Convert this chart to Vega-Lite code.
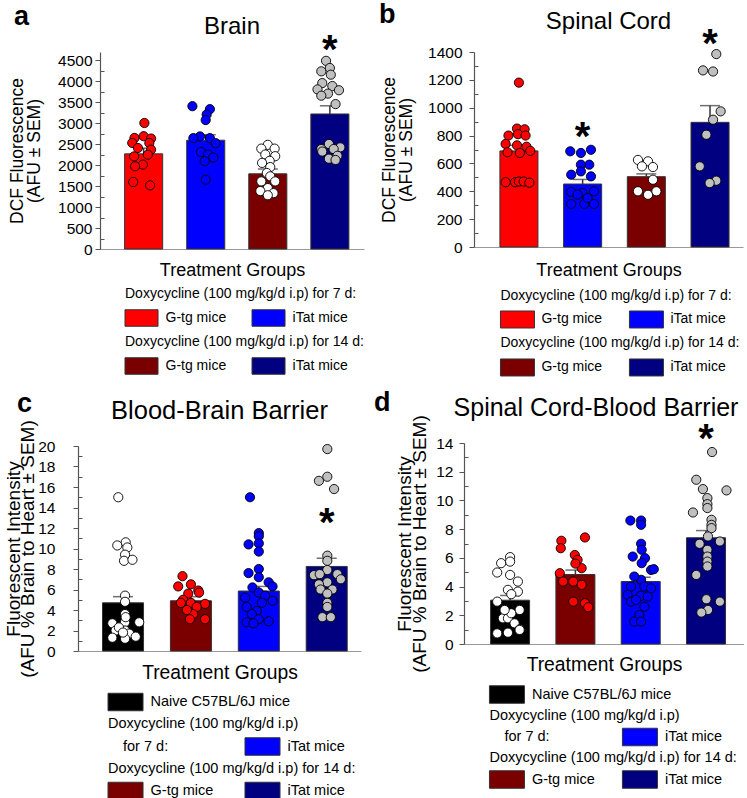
{
  "$schema": "https://vega.github.io/schema/vega-lite/v6.json",
  "padding": {"left": 0, "top": 0, "right": 0, "bottom": 0},
  "background": "white",
  "datasets": {
    "bars": [
      {"panel":"a","group":"G-tg 7d","value":2265,"upper":2400},
      {"panel":"a","group":"iTat 7d","value":2590,"upper":2720},
      {"panel":"a","group":"G-tg 14d","value":1790,"upper":1905},
      {"panel":"a","group":"iTat 14d","value":3215,"upper":3410},
      {"panel":"b","group":"G-tg 7d","value":690,"upper":730},
      {"panel":"b","group":"iTat 7d","value":452,"upper":485},
      {"panel":"b","group":"G-tg 14d","value":505,"upper":525},
      {"panel":"b","group":"iTat 14d","value":895,"upper":1015},
      {"panel":"c","group":"Naive","value":4.7,"upper":5.3},
      {"panel":"c","group":"G-tg 14d","value":4.9,"upper":5.3},
      {"panel":"c","group":"iTat 7d","value":5.85,"upper":6.3},
      {"panel":"c","group":"iTat 14d","value":8.25,"upper":9.05},
      {"panel":"d","group":"Naive","value":3.05,"upper":3.38},
      {"panel":"d","group":"G-tg 14d","value":4.84,"upper":5.15},
      {"panel":"d","group":"iTat 7d","value":4.35,"upper":4.65},
      {"panel":"d","group":"iTat 14d","value":7.4,"upper":7.9}
    ],
    "stars": [
      {"panel":"a","group":"iTat 14d","value":4880},
      {"panel":"b","group":"iTat 7d","value":833},
      {"panel":"b","group":"iTat 14d","value":1503},
      {"panel":"c","group":"iTat 14d","value":13.1},
      {"panel":"d","group":"iTat 14d","value":14.68}
    ],
    "points": [
      {"panel":"a","group":"G-tg 7d","value":3000,"jitter":0.04},
      {"panel":"a","group":"G-tg 7d","value":2645,"jitter":-0.48},
      {"panel":"a","group":"G-tg 7d","value":2685,"jitter":0.0},
      {"panel":"a","group":"G-tg 7d","value":2630,"jitter":0.39},
      {"panel":"a","group":"G-tg 7d","value":2525,"jitter":-0.6},
      {"panel":"a","group":"G-tg 7d","value":2525,"jitter":0.3},
      {"panel":"a","group":"G-tg 7d","value":2405,"jitter":-0.3},
      {"panel":"a","group":"G-tg 7d","value":2365,"jitter":0.39},
      {"panel":"a","group":"G-tg 7d","value":2205,"jitter":-0.5},
      {"panel":"a","group":"G-tg 7d","value":2245,"jitter":0.22},
      {"panel":"a","group":"G-tg 7d","value":2010,"jitter":-0.04},
      {"panel":"a","group":"G-tg 7d","value":1970,"jitter":-0.45},
      {"panel":"a","group":"G-tg 7d","value":1595,"jitter":-0.55},
      {"panel":"a","group":"G-tg 7d","value":1515,"jitter":0.34},
      {"panel":"a","group":"iTat 7d","value":3400,"jitter":-0.7},
      {"panel":"a","group":"iTat 7d","value":3330,"jitter":0.22},
      {"panel":"a","group":"iTat 7d","value":3200,"jitter":0.05},
      {"panel":"a","group":"iTat 7d","value":3070,"jitter":0.0},
      {"panel":"a","group":"iTat 7d","value":2680,"jitter":-0.3},
      {"panel":"a","group":"iTat 7d","value":2640,"jitter":0.22},
      {"panel":"a","group":"iTat 7d","value":2520,"jitter":0.52},
      {"panel":"a","group":"iTat 7d","value":2640,"jitter":-0.65},
      {"panel":"a","group":"iTat 7d","value":2310,"jitter":-0.25},
      {"panel":"a","group":"iTat 7d","value":2250,"jitter":0.13},
      {"panel":"a","group":"iTat 7d","value":2090,"jitter":-0.05},
      {"panel":"a","group":"iTat 7d","value":2180,"jitter":0.4},
      {"panel":"a","group":"iTat 7d","value":1650,"jitter":0.0},
      {"panel":"a","group":"G-tg 14d","value":2480,"jitter":0.0},
      {"panel":"a","group":"G-tg 14d","value":2390,"jitter":-0.34},
      {"panel":"a","group":"G-tg 14d","value":2390,"jitter":0.36},
      {"panel":"a","group":"G-tg 14d","value":2250,"jitter":-0.13},
      {"panel":"a","group":"G-tg 14d","value":2210,"jitter":0.39},
      {"panel":"a","group":"G-tg 14d","value":2100,"jitter":0.1},
      {"panel":"a","group":"G-tg 14d","value":2050,"jitter":-0.3},
      {"panel":"a","group":"G-tg 14d","value":1950,"jitter":0.13},
      {"panel":"a","group":"G-tg 14d","value":1810,"jitter":-0.05},
      {"panel":"a","group":"G-tg 14d","value":1730,"jitter":0.13},
      {"panel":"a","group":"G-tg 14d","value":1610,"jitter":-0.34},
      {"panel":"a","group":"G-tg 14d","value":1610,"jitter":0.39},
      {"panel":"a","group":"G-tg 14d","value":1450,"jitter":0.0},
      {"panel":"a","group":"G-tg 14d","value":1380,"jitter":-0.39},
      {"panel":"a","group":"G-tg 14d","value":1330,"jitter":0.3},
      {"panel":"a","group":"G-tg 14d","value":1280,"jitter":0.0},
      {"panel":"a","group":"iTat 14d","value":4480,"jitter":-0.2},
      {"panel":"a","group":"iTat 14d","value":4310,"jitter":0.0},
      {"panel":"a","group":"iTat 14d","value":4230,"jitter":-0.45},
      {"panel":"a","group":"iTat 14d","value":4150,"jitter":0.05},
      {"panel":"a","group":"iTat 14d","value":3950,"jitter":-0.4},
      {"panel":"a","group":"iTat 14d","value":3880,"jitter":0.13},
      {"panel":"a","group":"iTat 14d","value":3800,"jitter":-0.65},
      {"panel":"a","group":"iTat 14d","value":3780,"jitter":0.48},
      {"panel":"a","group":"iTat 14d","value":3700,"jitter":-0.1},
      {"panel":"a","group":"iTat 14d","value":3650,"jitter":-0.45},
      {"panel":"a","group":"iTat 14d","value":3450,"jitter":0.3},
      {"panel":"a","group":"iTat 14d","value":2500,"jitter":-0.05},
      {"panel":"a","group":"iTat 14d","value":2420,"jitter":0.55},
      {"panel":"a","group":"iTat 14d","value":2380,"jitter":-0.45},
      {"panel":"a","group":"iTat 14d","value":2380,"jitter":0.2},
      {"panel":"a","group":"iTat 14d","value":2320,"jitter":-0.4},
      {"panel":"a","group":"iTat 14d","value":2220,"jitter":0.4},
      {"panel":"a","group":"iTat 14d","value":2150,"jitter":-0.05},
      {"panel":"a","group":"iTat 14d","value":2120,"jitter":0.3},
      {"panel":"b","group":"G-tg 7d","value":1180,"jitter":0.0},
      {"panel":"b","group":"G-tg 7d","value":850,"jitter":-0.1},
      {"panel":"b","group":"G-tg 7d","value":845,"jitter":0.3},
      {"panel":"b","group":"G-tg 7d","value":800,"jitter":-0.55},
      {"panel":"b","group":"G-tg 7d","value":810,"jitter":-0.05},
      {"panel":"b","group":"G-tg 7d","value":800,"jitter":0.35},
      {"panel":"b","group":"G-tg 7d","value":740,"jitter":-0.7},
      {"panel":"b","group":"G-tg 7d","value":730,"jitter":-0.1},
      {"panel":"b","group":"G-tg 7d","value":720,"jitter":0.4},
      {"panel":"b","group":"G-tg 7d","value":680,"jitter":-0.6},
      {"panel":"b","group":"G-tg 7d","value":675,"jitter":0.05},
      {"panel":"b","group":"G-tg 7d","value":690,"jitter":0.6},
      {"panel":"b","group":"G-tg 7d","value":465,"jitter":-0.7},
      {"panel":"b","group":"G-tg 7d","value":465,"jitter":-0.2},
      {"panel":"b","group":"G-tg 7d","value":470,"jitter":0.0},
      {"panel":"b","group":"G-tg 7d","value":470,"jitter":0.25},
      {"panel":"b","group":"G-tg 7d","value":462,"jitter":0.55},
      {"panel":"b","group":"iTat 7d","value":698,"jitter":0.44},
      {"panel":"b","group":"iTat 7d","value":687,"jitter":-0.65},
      {"panel":"b","group":"iTat 7d","value":675,"jitter":-0.09},
      {"panel":"b","group":"iTat 7d","value":591,"jitter":0.35},
      {"panel":"b","group":"iTat 7d","value":591,"jitter":-0.09},
      {"panel":"b","group":"iTat 7d","value":543,"jitter":-0.09},
      {"panel":"b","group":"iTat 7d","value":507,"jitter":0.44},
      {"panel":"b","group":"iTat 7d","value":519,"jitter":-0.6},
      {"panel":"b","group":"iTat 7d","value":395,"jitter":-0.6},
      {"panel":"b","group":"iTat 7d","value":388,"jitter":0.0},
      {"panel":"b","group":"iTat 7d","value":400,"jitter":0.6},
      {"panel":"b","group":"iTat 7d","value":309,"jitter":-0.6},
      {"panel":"b","group":"iTat 7d","value":309,"jitter":0.09},
      {"panel":"b","group":"iTat 7d","value":309,"jitter":0.6},
      {"panel":"b","group":"iTat 7d","value":376,"jitter":-0.26},
      {"panel":"b","group":"iTat 7d","value":352,"jitter":0.26},
      {"panel":"b","group":"G-tg 14d","value":625,"jitter":-0.44},
      {"panel":"b","group":"G-tg 14d","value":615,"jitter":0.09},
      {"panel":"b","group":"G-tg 14d","value":579,"jitter":-0.23},
      {"panel":"b","group":"G-tg 14d","value":574,"jitter":0.35},
      {"panel":"b","group":"G-tg 14d","value":483,"jitter":0.35},
      {"panel":"b","group":"G-tg 14d","value":400,"jitter":-0.44},
      {"panel":"b","group":"G-tg 14d","value":375,"jitter":0.09},
      {"panel":"b","group":"G-tg 14d","value":400,"jitter":0.53},
      {"panel":"b","group":"iTat 14d","value":1385,"jitter":0.33},
      {"panel":"b","group":"iTat 14d","value":1268,"jitter":-0.37},
      {"panel":"b","group":"iTat 14d","value":1260,"jitter":0.16},
      {"panel":"b","group":"iTat 14d","value":974,"jitter":0.56},
      {"panel":"b","group":"iTat 14d","value":914,"jitter":0.16},
      {"panel":"b","group":"iTat 14d","value":806,"jitter":-0.19},
      {"panel":"b","group":"iTat 14d","value":579,"jitter":-0.54},
      {"panel":"b","group":"iTat 14d","value":476,"jitter":0.33},
      {"panel":"b","group":"iTat 14d","value":459,"jitter":-0.02},
      {"panel":"c","group":"Naive","value":15.0,"jitter":-0.23},
      {"panel":"c","group":"Naive","value":10.6,"jitter":0.13},
      {"panel":"c","group":"Naive","value":10.3,"jitter":-0.28},
      {"panel":"c","group":"Naive","value":10.1,"jitter":0.21},
      {"panel":"c","group":"Naive","value":9.4,"jitter":0.1},
      {"panel":"c","group":"Naive","value":8.8,"jitter":0.05},
      {"panel":"c","group":"Naive","value":8.9,"jitter":0.46},
      {"panel":"c","group":"Naive","value":5.4,"jitter":0.1},
      {"panel":"c","group":"Naive","value":4.8,"jitter":0.1},
      {"panel":"c","group":"Naive","value":3.6,"jitter":0.1},
      {"panel":"c","group":"Naive","value":2.8,"jitter":0.1},
      {"panel":"c","group":"Naive","value":2.7,"jitter":-0.52},
      {"panel":"c","group":"Naive","value":2.8,"jitter":0.79},
      {"panel":"c","group":"Naive","value":2.0,"jitter":-0.36},
      {"panel":"c","group":"Naive","value":2.0,"jitter":0.1},
      {"panel":"c","group":"Naive","value":1.7,"jitter":0.3},
      {"panel":"c","group":"Naive","value":1.3,"jitter":-0.52},
      {"panel":"c","group":"Naive","value":1.4,"jitter":0.62},
      {"panel":"c","group":"Naive","value":1.2,"jitter":0.1},
      {"panel":"c","group":"Naive","value":3.3,"jitter":0.13},
      {"panel":"c","group":"Naive","value":2.3,"jitter":-0.2},
      {"panel":"c","group":"Naive","value":1.8,"jitter":0.0},
      {"panel":"c","group":"G-tg 14d","value":7.3,"jitter":-0.41},
      {"panel":"c","group":"G-tg 14d","value":6.5,"jitter":0.0},
      {"panel":"c","group":"G-tg 14d","value":6.3,"jitter":-0.62},
      {"panel":"c","group":"G-tg 14d","value":5.9,"jitter":0.36},
      {"panel":"c","group":"G-tg 14d","value":5.6,"jitter":-0.13},
      {"panel":"c","group":"G-tg 14d","value":5.0,"jitter":-0.38},
      {"panel":"c","group":"G-tg 14d","value":4.7,"jitter":-0.49},
      {"panel":"c","group":"G-tg 14d","value":4.7,"jitter":0.0},
      {"panel":"c","group":"G-tg 14d","value":4.6,"jitter":0.69},
      {"panel":"c","group":"G-tg 14d","value":4.3,"jitter":0.28},
      {"panel":"c","group":"G-tg 14d","value":3.6,"jitter":0.11},
      {"panel":"c","group":"G-tg 14d","value":3.1,"jitter":-0.05},
      {"panel":"c","group":"G-tg 14d","value":3.1,"jitter":0.69},
      {"panel":"c","group":"G-tg 14d","value":5.7,"jitter":0.4},
      {"panel":"c","group":"G-tg 14d","value":4.0,"jitter":-0.2},
      {"panel":"c","group":"iTat 7d","value":15.0,"jitter":-0.43},
      {"panel":"c","group":"iTat 7d","value":11.5,"jitter":0.0},
      {"panel":"c","group":"iTat 7d","value":11.2,"jitter":0.0},
      {"panel":"c","group":"iTat 7d","value":10.4,"jitter":-0.5},
      {"panel":"c","group":"iTat 7d","value":10.5,"jitter":0.0},
      {"panel":"c","group":"iTat 7d","value":9.7,"jitter":0.0},
      {"panel":"c","group":"iTat 7d","value":8.0,"jitter":0.0},
      {"panel":"c","group":"iTat 7d","value":7.6,"jitter":-0.5},
      {"panel":"c","group":"iTat 7d","value":7.2,"jitter":0.0},
      {"panel":"c","group":"iTat 7d","value":6.7,"jitter":0.48},
      {"panel":"c","group":"iTat 7d","value":6.3,"jitter":0.67},
      {"panel":"c","group":"iTat 7d","value":6.2,"jitter":-0.31},
      {"panel":"c","group":"iTat 7d","value":5.7,"jitter":0.0},
      {"panel":"c","group":"iTat 7d","value":5.2,"jitter":-0.67},
      {"panel":"c","group":"iTat 7d","value":5.4,"jitter":0.31},
      {"panel":"c","group":"iTat 7d","value":4.9,"jitter":0.67},
      {"panel":"c","group":"iTat 7d","value":4.7,"jitter":0.15},
      {"panel":"c","group":"iTat 7d","value":4.3,"jitter":-0.59},
      {"panel":"c","group":"iTat 7d","value":3.9,"jitter":-0.1},
      {"panel":"c","group":"iTat 7d","value":3.6,"jitter":-0.34},
      {"panel":"c","group":"iTat 7d","value":3.1,"jitter":0.0},
      {"panel":"c","group":"iTat 7d","value":2.9,"jitter":0.48},
      {"panel":"c","group":"iTat 7d","value":2.8,"jitter":-0.59},
      {"panel":"c","group":"iTat 7d","value":2.7,"jitter":-0.26},
      {"panel":"c","group":"iTat 14d","value":19.7,"jitter":0.03},
      {"panel":"c","group":"iTat 14d","value":17.0,"jitter":0.03},
      {"panel":"c","group":"iTat 14d","value":16.6,"jitter":-0.38},
      {"panel":"c","group":"iTat 14d","value":15.8,"jitter":0.36},
      {"panel":"c","group":"iTat 14d","value":9.3,"jitter":0.03},
      {"panel":"c","group":"iTat 14d","value":8.8,"jitter":0.03},
      {"panel":"c","group":"iTat 14d","value":7.9,"jitter":0.03},
      {"panel":"c","group":"iTat 14d","value":7.4,"jitter":-0.62},
      {"panel":"c","group":"iTat 14d","value":7.5,"jitter":-0.34},
      {"panel":"c","group":"iTat 14d","value":7.5,"jitter":0.52},
      {"panel":"c","group":"iTat 14d","value":7.0,"jitter":0.69},
      {"panel":"c","group":"iTat 14d","value":6.7,"jitter":0.03},
      {"panel":"c","group":"iTat 14d","value":6.5,"jitter":-0.38},
      {"panel":"c","group":"iTat 14d","value":6.0,"jitter":-0.3},
      {"panel":"c","group":"iTat 14d","value":6.0,"jitter":0.28},
      {"panel":"c","group":"iTat 14d","value":5.6,"jitter":0.03},
      {"panel":"c","group":"iTat 14d","value":4.7,"jitter":0.03},
      {"panel":"c","group":"iTat 14d","value":4.3,"jitter":0.03},
      {"panel":"c","group":"iTat 14d","value":3.3,"jitter":-0.21},
      {"panel":"c","group":"iTat 14d","value":3.3,"jitter":0.2},
      {"panel":"d","group":"Naive","value":6.05,"jitter":0.0},
      {"panel":"d","group":"Naive","value":5.74,"jitter":0.0},
      {"panel":"d","group":"Naive","value":5.63,"jitter":-0.46},
      {"panel":"d","group":"Naive","value":4.98,"jitter":-0.66},
      {"panel":"d","group":"Naive","value":4.81,"jitter":0.0},
      {"panel":"d","group":"Naive","value":4.35,"jitter":0.4},
      {"panel":"d","group":"Naive","value":3.77,"jitter":-0.11},
      {"panel":"d","group":"Naive","value":3.65,"jitter":0.4},
      {"panel":"d","group":"Naive","value":3.47,"jitter":0.06},
      {"panel":"d","group":"Naive","value":2.95,"jitter":-0.66},
      {"panel":"d","group":"Naive","value":2.37,"jitter":0.49},
      {"panel":"d","group":"Naive","value":1.79,"jitter":-0.37},
      {"panel":"d","group":"Naive","value":1.79,"jitter":-0.11},
      {"panel":"d","group":"Naive","value":2.14,"jitter":0.06},
      {"panel":"d","group":"Naive","value":1.44,"jitter":0.23},
      {"panel":"d","group":"Naive","value":1.02,"jitter":0.49},
      {"panel":"d","group":"Naive","value":0.74,"jitter":-0.66},
      {"panel":"d","group":"Naive","value":0.79,"jitter":-0.11},
      {"panel":"d","group":"Naive","value":0.98,"jitter":0.49},
      {"panel":"d","group":"Naive","value":2.37,"jitter":-0.28},
      {"panel":"d","group":"G-tg 14d","value":7.42,"jitter":0.49},
      {"panel":"d","group":"G-tg 14d","value":7.19,"jitter":-0.72},
      {"panel":"d","group":"G-tg 14d","value":6.67,"jitter":-0.75},
      {"panel":"d","group":"G-tg 14d","value":6.2,"jitter":-0.03},
      {"panel":"d","group":"G-tg 14d","value":5.86,"jitter":0.11},
      {"panel":"d","group":"G-tg 14d","value":5.28,"jitter":0.32},
      {"panel":"d","group":"G-tg 14d","value":4.93,"jitter":-0.8},
      {"panel":"d","group":"G-tg 14d","value":4.35,"jitter":-0.63},
      {"panel":"d","group":"G-tg 14d","value":4.35,"jitter":-0.11},
      {"panel":"d","group":"G-tg 14d","value":4.12,"jitter":0.32},
      {"panel":"d","group":"G-tg 14d","value":2.95,"jitter":-0.11},
      {"panel":"d","group":"G-tg 14d","value":2.84,"jitter":0.49},
      {"panel":"d","group":"G-tg 14d","value":2.56,"jitter":0.66},
      {"panel":"d","group":"G-tg 14d","value":5.6,"jitter":0.0},
      {"panel":"d","group":"iTat 7d","value":8.6,"jitter":-0.53},
      {"panel":"d","group":"iTat 7d","value":8.6,"jitter":0.02},
      {"panel":"d","group":"iTat 7d","value":8.3,"jitter":0.02},
      {"panel":"d","group":"iTat 7d","value":6.98,"jitter":0.02},
      {"panel":"d","group":"iTat 7d","value":6.56,"jitter":0.05},
      {"panel":"d","group":"iTat 7d","value":6.09,"jitter":-0.41},
      {"panel":"d","group":"iTat 7d","value":5.98,"jitter":0.22},
      {"panel":"d","group":"iTat 7d","value":5.63,"jitter":0.05},
      {"panel":"d","group":"iTat 7d","value":5.16,"jitter":0.53},
      {"panel":"d","group":"iTat 7d","value":5.21,"jitter":0.67},
      {"panel":"d","group":"iTat 7d","value":4.47,"jitter":0.02},
      {"panel":"d","group":"iTat 7d","value":4.0,"jitter":-0.5},
      {"panel":"d","group":"iTat 7d","value":4.0,"jitter":0.19},
      {"panel":"d","group":"iTat 7d","value":3.88,"jitter":0.53},
      {"panel":"d","group":"iTat 7d","value":3.42,"jitter":-0.67},
      {"panel":"d","group":"iTat 7d","value":3.35,"jitter":0.0},
      {"panel":"d","group":"iTat 7d","value":2.95,"jitter":-0.5},
      {"panel":"d","group":"iTat 7d","value":2.6,"jitter":0.19},
      {"panel":"d","group":"iTat 7d","value":2.02,"jitter":-0.07},
      {"panel":"d","group":"iTat 7d","value":1.56,"jitter":-0.33},
      {"panel":"d","group":"iTat 7d","value":1.56,"jitter":0.02},
      {"panel":"d","group":"iTat 7d","value":3.07,"jitter":-0.24},
      {"panel":"d","group":"iTat 7d","value":3.3,"jitter":0.36},
      {"panel":"d","group":"iTat 7d","value":4.7,"jitter":-0.33},
      {"panel":"d","group":"iTat 14d","value":13.37,"jitter":0.31},
      {"panel":"d","group":"iTat 14d","value":11.44,"jitter":-0.5},
      {"panel":"d","group":"iTat 14d","value":10.79,"jitter":-0.16},
      {"panel":"d","group":"iTat 14d","value":10.7,"jitter":1.05},
      {"panel":"d","group":"iTat 14d","value":10.16,"jitter":0.07},
      {"panel":"d","group":"iTat 14d","value":9.74,"jitter":0.07},
      {"panel":"d","group":"iTat 14d","value":9.47,"jitter":0.07},
      {"panel":"d","group":"iTat 14d","value":9.16,"jitter":-0.67},
      {"panel":"d","group":"iTat 14d","value":8.65,"jitter":0.28},
      {"panel":"d","group":"iTat 14d","value":8.3,"jitter":0.28},
      {"panel":"d","group":"iTat 14d","value":8.07,"jitter":0.28},
      {"panel":"d","group":"iTat 14d","value":7.49,"jitter":0.1},
      {"panel":"d","group":"iTat 14d","value":7.14,"jitter":0.71},
      {"panel":"d","group":"iTat 14d","value":6.98,"jitter":-0.33},
      {"panel":"d","group":"iTat 14d","value":6.56,"jitter":0.07},
      {"panel":"d","group":"iTat 14d","value":6.09,"jitter":0.07},
      {"panel":"d","group":"iTat 14d","value":5.74,"jitter":0.07},
      {"panel":"d","group":"iTat 14d","value":5.4,"jitter":0.07},
      {"panel":"d","group":"iTat 14d","value":4.81,"jitter":-0.5},
      {"panel":"d","group":"iTat 14d","value":3.12,"jitter":0.02},
      {"panel":"d","group":"iTat 14d","value":2.95,"jitter":0.71},
      {"panel":"d","group":"iTat 14d","value":2.37,"jitter":0.1},
      {"panel":"d","group":"iTat 14d","value":2.19,"jitter":-0.24}
    ],
    "legend": [
      {"set":"ab","kind":"header","line":"7 d header","column":"G-tg","text":"Doxycycline (100 mg/kg/d i.p) for 7 d:"},
      {"set":"ab","kind":"swatch","line":"7 d","column":"G-tg","group":"G-tg 7d"},
      {"set":"ab","kind":"label","line":"7 d","column":"G-tg","text":"G-tg mice"},
      {"set":"ab","kind":"swatch","line":"7 d","column":"iTat","group":"iTat 7d"},
      {"set":"ab","kind":"label","line":"7 d","column":"iTat","text":"iTat mice"},
      {"set":"ab","kind":"header","line":"14 d header","column":"G-tg","text":"Doxycycline (100 mg/kg/d i.p) for 14 d:"},
      {"set":"ab","kind":"swatch","line":"14 d","column":"G-tg","group":"G-tg 14d"},
      {"set":"ab","kind":"label","line":"14 d","column":"G-tg","text":"G-tg mice"},
      {"set":"ab","kind":"swatch","line":"14 d","column":"iTat","group":"iTat 14d"},
      {"set":"ab","kind":"label","line":"14 d","column":"iTat","text":"iTat mice"},
      {"set":"cd","kind":"swatch","line":"naive","column":"G-tg","group":"Naive"},
      {"set":"cd","kind":"label","line":"naive","column":"G-tg","text":"Naive C57BL/6J mice"},
      {"set":"cd","kind":"header","line":"7 d header","column":"G-tg","text":"Doxycycline (100 mg/kg/d i.p)"},
      {"set":"cd","kind":"subheader","line":"7 d","column":"G-tg","text":"for 7 d:"},
      {"set":"cd","kind":"swatch","line":"7 d","column":"iTat","group":"iTat 7d"},
      {"set":"cd","kind":"label","line":"7 d","column":"iTat","text":"iTat mice"},
      {"set":"cd","kind":"header","line":"14 d header","column":"G-tg","text":"Doxycycline (100 mg/kg/d i.p) for 14 d:"},
      {"set":"cd","kind":"swatch","line":"14 d","column":"G-tg","group":"G-tg 14d"},
      {"set":"cd","kind":"label","line":"14 d","column":"G-tg","text":"G-tg mice"},
      {"set":"cd","kind":"swatch","line":"14 d","column":"iTat","group":"iTat 14d"},
      {"set":"cd","kind":"label","line":"14 d","column":"iTat","text":"iTat mice"}
    ]
  },
  "spacing": 10,
  "resolve": {"scale": {"color": "independent", "xOffset": "independent"}},
  "hconcat": [
    {
      "spacing": 8,
      "resolve": {"scale": {"color": "independent", "xOffset": "independent"}},
      "vconcat": [
        {
          "spacing": 0,
          "title": {"text": "a", "fontSize": 27, "fontWeight": "bold", "anchor": "start", "frame": "bounds", "offset": -16, "dx": 14},
          "resolve": {"scale": {"color": "independent", "xOffset": "independent"}},
          "hconcat": [
            {"width": 8, "height": 1, "data": {"values": []}, "mark": "point"},
            {
              "width": 264, "height": 197,
              "title": {"text": "Brain", "fontSize": 24, "anchor": "middle", "frame": "group", "offset": -8},
              "resolve": {"scale": {"xOffset": "independent"}},
              "encoding": {
                "x": {"field": "group", "type": "nominal", "scale": {"domain": ["G-tg 7d","iTat 7d","G-tg 14d","iTat 14d"], "paddingInner": 0.387, "paddingOuter": 0.32, "align": 0.62},
                      "axis": {"title": "Treatment Groups", "labels": false, "ticks": false, "domainColor": "#999999", "domainWidth": 1.2, "titleFontSize": 18, "titlePadding": 12}},
                "y": {"field": "value", "type": "quantitative", "scale": {"domain": [0, 4690.5], "nice": false},
                      "axis": {"title": ["DCF Fluorescence", "(AFU ± SEM)"], "values": [0,250,500,750,1000,1250,1500,1750,2000,2250,2500,2750,3000,3250,3500,3750,4000,4250,4500], "format": "d",
                               "labelExpr": "datum.value % 500 === 0 ? datum.label : ''", "labelOverlap": false,
                               "tickSize": {"condition": {"test": "datum.value % 500 === 0", "value": 5}, "value": -4},
                               "labelFontSize": 15.5, "labelPadding": 3, "titleFontSize": 17.5, "titleLineHeight": 17, "titlePadding": 14}}
              },
              "layer": [
                {"data": {"name": "bars"}, "transform": [{"filter": "datum.panel === 'a'"}],
                 "mark": {"type": "bar", "stroke": "#333333", "strokeWidth": 1, "width": {"band": 1}},
                 "encoding": {"fill": {"field": "group", "type": "nominal", "scale": {"domain": ["Naive","G-tg 7d","iTat 7d","G-tg 14d","iTat 14d"], "range": ["#000000","#ff0000","#0000ff","#7a0000","#000080"]}, "legend": null}}},
                {"data": {"name": "bars"}, "transform": [{"filter": "datum.panel === 'a'"}],
                 "mark": {"type": "rule", "color": "#333333", "strokeWidth": 1.5},
                 "encoding": {"y2": {"field": "upper"}}},
                {"data": {"name": "bars"}, "transform": [{"filter": "datum.panel === 'a'"}],
                 "mark": {"type": "tick", "color": "#333333", "thickness": 1.5, "size": 20},
                 "encoding": {"y": {"field": "upper", "type": "quantitative"}}},
                {"data": {"values": [{}]},
                 "mark": {"type": "rule", "color": "#777777", "strokeDash": [4, 3], "strokeWidth": 1},
                 "encoding": {"x": {"datum": "G-tg 14d", "type": "nominal", "bandPosition": -0.32}, "y": {"datum": 0, "type": "quantitative"}, "y2": {"datum": 4500}}},
                {"data": {"name": "points"}, "transform": [{"filter": "datum.panel === 'a'"}],
                 "mark": {"type": "circle", "size": 85, "stroke": "#000000", "strokeWidth": 0.9, "opacity": 1},
                 "encoding": {"xOffset": {"field": "jitter", "type": "quantitative", "scale": {"domain": [-1, 1], "range": [0, 38]}},
                              "color": {"field": "group", "type": "nominal", "scale": {"domain": ["G-tg 7d","iTat 7d","G-tg 14d","iTat 14d"], "range": ["#ff0000","#0000ff","#ffffff","#c0c0c0"]}, "legend": null}}},
                {"data": {"name": "stars"}, "transform": [{"filter": "datum.panel === 'a'"}],
                 "mark": {"type": "text", "text": "*", "fontSize": 40, "fontWeight": "bold", "baseline": "alphabetic", "dy": 19}}
              ]
            }
          ]
        },
        {
          "width": 300, "height": 88,
          "data": {"name": "legend"},
          "transform": [{"filter": "datum.set === 'ab'"}],
          "encoding": {
            "x": {"field": "column", "type": "nominal", "scale": {"type": "point", "domain": ["G-tg","iTat"], "padding": 0.681, "align": 0.818}, "axis": null},
            "y": {"field": "line", "type": "nominal", "scale": {"type": "point", "domain": ["7 d header","7 d","14 d header","14 d"], "padding": 0.333, "align": 0}, "axis": null}
          },
          "layer": [
            {"transform": [{"filter": "datum.kind === 'swatch'"}],
             "mark": {"type": "point", "shape": "M-1,-0.5H1V0.5H-1Z", "size": 1089, "filled": true, "stroke": "#333333", "strokeWidth": 1, "opacity": 1},
             "encoding": {"fill": {"field": "group", "type": "nominal", "scale": {"domain": ["Naive","G-tg 7d","iTat 7d","G-tg 14d","iTat 14d"], "range": ["#000000","#ff0000","#0000ff","#7a0000","#000080"]}, "legend": null}}},
            {"transform": [{"filter": "datum.kind === 'label'"}],
             "mark": {"type": "text", "align": "left", "baseline": "middle", "dx": 24, "fontSize": 14},
             "encoding": {"text": {"field": "text"}}},
            {"transform": [{"filter": "datum.kind === 'header'"}],
             "mark": {"type": "text", "align": "left", "baseline": "middle", "dx": -16.5, "fontSize": 14},
             "encoding": {"text": {"field": "text"}}}
          ]
        },
        {
          "spacing": 0,
          "title": {"text": "c", "fontSize": 27, "fontWeight": "bold", "anchor": "start", "frame": "bounds", "offset": -19, "dx": 17},
          "resolve": {"scale": {"color": "independent", "xOffset": "independent"}},
          "hconcat": [
            {"width": 3.5, "height": 1, "data": {"values": []}, "mark": "point"},
            {
              "width": 283, "height": 205,
              "title": {"text": "Blood-Brain Barrier", "fontSize": 25.5, "anchor": "middle", "frame": "group", "offset": -5},
              "resolve": {"scale": {"xOffset": "independent"}},
              "encoding": {
                "x": {"field": "group", "type": "nominal", "scale": {"domain": ["Naive","G-tg 14d","iTat 7d","iTat 14d"], "paddingInner": 0.396, "paddingOuter": 0.282, "align": 0.64},
                      "axis": {"title": "Treatment Groups", "labels": false, "ticks": false, "domainColor": "#999999", "domainWidth": 1.2, "titleFontSize": 19.3, "titlePadding": 12}},
                "y": {"field": "value", "type": "quantitative", "scale": {"domain": [0, 20], "nice": false},
                      "axis": {"title": ["Fluorescent Intensity", "(AFU % Brain to Heart ± SEM)"], "values": [0,1,2,3,4,5,6,7,8,9,10,11,12,13,14,15,16,17,18,19,20], "format": "d",
                               "labelExpr": "datum.value % 2 === 0 ? datum.label : ''", "labelOverlap": false,
                               "tickSize": {"condition": {"test": "datum.value % 2 === 0", "value": 5}, "value": -4},
                               "labelFontSize": 15.5, "labelPadding": 18, "titleFontSize": 19, "titleLineHeight": 14.5, "titlePadding": 0}}
              },
              "layer": [
                {"data": {"name": "bars"}, "transform": [{"filter": "datum.panel === 'c'"}],
                 "mark": {"type": "bar", "stroke": "#333333", "strokeWidth": 1, "width": {"band": 1}},
                 "encoding": {"fill": {"field": "group", "type": "nominal", "scale": {"domain": ["Naive","G-tg 7d","iTat 7d","G-tg 14d","iTat 14d"], "range": ["#000000","#ff0000","#0000ff","#7a0000","#000080"]}, "legend": null}}},
                {"data": {"name": "bars"}, "transform": [{"filter": "datum.panel === 'c'"}],
                 "mark": {"type": "rule", "color": "#333333", "strokeWidth": 1.5},
                 "encoding": {"y2": {"field": "upper"}}},
                {"data": {"name": "bars"}, "transform": [{"filter": "datum.panel === 'c'"}],
                 "mark": {"type": "tick", "color": "#333333", "thickness": 1.5, "size": 20},
                 "encoding": {"y": {"field": "upper", "type": "quantitative"}}},
                {"data": {"name": "points"}, "transform": [{"filter": "datum.panel === 'c'"}],
                 "mark": {"type": "circle", "size": 85, "stroke": "#000000", "strokeWidth": 0.9, "opacity": 1},
                 "encoding": {"xOffset": {"field": "jitter", "type": "quantitative", "scale": {"domain": [-1, 1], "range": [0, 41]}},
                              "color": {"field": "group", "type": "nominal", "scale": {"domain": ["Naive","G-tg 14d","iTat 7d","iTat 14d"], "range": ["#ffffff","#ff0000","#0000ff","#c0c0c0"]}, "legend": null}}},
                {"data": {"name": "stars"}, "transform": [{"filter": "datum.panel === 'c'"}],
                 "mark": {"type": "text", "text": "*", "fontSize": 40, "fontWeight": "bold", "baseline": "alphabetic", "dy": 19}}
              ]
            }
          ]
        },
        {
          "width": 300, "height": 89,
          "data": {"name": "legend"},
          "transform": [{"filter": "datum.set === 'cd'"}],
          "encoding": {
            "x": {"field": "column", "type": "nominal", "scale": {"type": "point", "domain": ["G-tg","iTat"], "padding": 0.595, "align": 0.77}, "axis": null},
            "y": {"field": "line", "type": "nominal", "scale": {"type": "point", "domain": ["naive","7 d header","7 d","14 d header","14 d"], "padding": 0, "align": 0}, "axis": null}
          },
          "layer": [
            {"transform": [{"filter": "datum.kind === 'swatch'"}],
             "mark": {"type": "point", "shape": "M-1,-0.5H1V0.5H-1Z", "size": 1225, "filled": true, "stroke": "#333333", "strokeWidth": 1, "opacity": 1},
             "encoding": {"fill": {"field": "group", "type": "nominal", "scale": {"domain": ["Naive","G-tg 7d","iTat 7d","G-tg 14d","iTat 14d"], "range": ["#000000","#ff0000","#0000ff","#7a0000","#000080"]}, "legend": null}}},
            {"transform": [{"filter": "datum.kind === 'label'"}],
             "mark": {"type": "text", "align": "left", "baseline": "middle", "dx": 25, "fontSize": 14.5},
             "encoding": {"text": {"field": "text"}}},
            {"transform": [{"filter": "datum.kind === 'header'"}],
             "mark": {"type": "text", "align": "left", "baseline": "middle", "dx": -17.5, "fontSize": 14.5},
             "encoding": {"text": {"field": "text"}}},
            {"transform": [{"filter": "datum.kind === 'subheader'"}],
             "mark": {"type": "text", "align": "left", "baseline": "middle", "dx": -2.5, "fontSize": 14.5},
             "encoding": {"text": {"field": "text"}}}
          ]
        }
      ]
    },
    {
      "spacing": 8.5,
      "resolve": {"scale": {"color": "independent", "xOffset": "independent"}},
      "vconcat": [
        {
          "spacing": 0,
          "title": {"text": "b", "fontSize": 27, "fontWeight": "bold", "anchor": "start", "frame": "bounds", "offset": -19, "dx": 4},
          "resolve": {"scale": {"color": "independent", "xOffset": "independent"}},
          "hconcat": [
            {"width": 5, "height": 1, "data": {"values": []}, "mark": "point"},
            {
              "width": 269, "height": 195,
              "title": {"text": "Spinal Cord", "fontSize": 24, "anchor": "middle", "frame": "group", "offset": -9},
              "resolve": {"scale": {"xOffset": "independent"}},
              "encoding": {
                "x": {"field": "group", "type": "nominal", "scale": {"domain": ["G-tg 7d","iTat 7d","G-tg 14d","iTat 14d"], "paddingInner": 0.403, "paddingOuter": 0.313, "align": 0.65},
                      "axis": {"title": "Treatment Groups", "labels": false, "ticks": false, "domainColor": "#999999", "domainWidth": 1.2, "titleFontSize": 18, "titlePadding": 14.2}},
                "y": {"field": "value", "type": "quantitative", "scale": {"domain": [0, 1400], "nice": false},
                      "axis": {"title": ["DCF Fluorescence", "(AFU ± SEM)"], "values": [0,100,200,300,400,500,600,700,800,900,1000,1100,1200,1300,1400], "format": "d",
                               "labelExpr": "datum.value % 200 === 0 ? datum.label : ''", "labelOverlap": false,
                               "tickSize": {"condition": {"test": "datum.value % 200 === 0", "value": 5}, "value": -4},
                               "labelFontSize": 15.5, "labelPadding": 7, "titleFontSize": 17.5, "titleLineHeight": 17, "titlePadding": 12}}
              },
              "layer": [
                {"data": {"name": "bars"}, "transform": [{"filter": "datum.panel === 'b'"}],
                 "mark": {"type": "bar", "stroke": "#333333", "strokeWidth": 1, "width": {"band": 1}},
                 "encoding": {"fill": {"field": "group", "type": "nominal", "scale": {"domain": ["Naive","G-tg 7d","iTat 7d","G-tg 14d","iTat 14d"], "range": ["#000000","#ff0000","#0000ff","#7a0000","#000080"]}, "legend": null}}},
                {"data": {"name": "bars"}, "transform": [{"filter": "datum.panel === 'b'"}],
                 "mark": {"type": "rule", "color": "#333333", "strokeWidth": 1.5},
                 "encoding": {"y2": {"field": "upper"}}},
                {"data": {"name": "bars"}, "transform": [{"filter": "datum.panel === 'b'"}],
                 "mark": {"type": "tick", "color": "#333333", "thickness": 1.5, "size": 20},
                 "encoding": {"y": {"field": "upper", "type": "quantitative"}}},
                {"data": {"values": [{}]},
                 "mark": {"type": "rule", "color": "#777777", "strokeDash": [4, 3], "strokeWidth": 1},
                 "encoding": {"x": {"datum": "G-tg 14d", "type": "nominal", "bandPosition": -0.32}, "y": {"datum": 0, "type": "quantitative"}, "y2": {"datum": 1400}}},
                {"data": {"name": "points"}, "transform": [{"filter": "datum.panel === 'b'"}],
                 "mark": {"type": "circle", "size": 85, "stroke": "#000000", "strokeWidth": 0.9, "opacity": 1},
                 "encoding": {"xOffset": {"field": "jitter", "type": "quantitative", "scale": {"domain": [-1, 1], "range": [0, 38]}},
                              "color": {"field": "group", "type": "nominal", "scale": {"domain": ["G-tg 7d","iTat 7d","G-tg 14d","iTat 14d"], "range": ["#ff0000","#0000ff","#ffffff","#c0c0c0"]}, "legend": null}}},
                {"data": {"name": "stars"}, "transform": [{"filter": "datum.panel === 'b'"}],
                 "mark": {"type": "text", "text": "*", "fontSize": 40, "fontWeight": "bold", "baseline": "alphabetic", "dy": 19}}
              ]
            }
          ]
        },
        {
          "width": 300, "height": 83.5,
          "data": {"name": "legend"},
          "transform": [{"filter": "datum.set === 'ab'"}],
          "encoding": {
            "x": {"field": "column", "type": "nominal", "scale": {"type": "point", "domain": ["G-tg","iTat"], "padding": 0.663, "align": 0.833}, "axis": null},
            "y": {"field": "line", "type": "nominal", "scale": {"type": "point", "domain": ["7 d header","7 d","14 d header","14 d"], "padding": 0.24, "align": 0}, "axis": null}
          },
          "layer": [
            {"transform": [{"filter": "datum.kind === 'swatch'"}],
             "mark": {"type": "point", "shape": "M-1,-0.5H1V0.5H-1Z", "size": 1156, "filled": true, "stroke": "#333333", "strokeWidth": 1, "opacity": 1},
             "encoding": {"fill": {"field": "group", "type": "nominal", "scale": {"domain": ["Naive","G-tg 7d","iTat 7d","G-tg 14d","iTat 14d"], "range": ["#000000","#ff0000","#0000ff","#7a0000","#000080"]}, "legend": null}}},
            {"transform": [{"filter": "datum.kind === 'label'"}],
             "mark": {"type": "text", "align": "left", "baseline": "middle", "dx": 24, "fontSize": 14},
             "encoding": {"text": {"field": "text"}}},
            {"transform": [{"filter": "datum.kind === 'header'"}],
             "mark": {"type": "text", "align": "left", "baseline": "middle", "dx": -17, "fontSize": 14},
             "encoding": {"text": {"field": "text"}}}
          ]
        },
        {
          "spacing": 0,
          "title": {"text": "d", "fontSize": 27, "fontWeight": "bold", "anchor": "start", "frame": "bounds", "offset": -21, "dx": -1},
          "resolve": {"scale": {"color": "independent", "xOffset": "independent"}},
          "hconcat": [
            {"width": 19.5, "height": 1, "data": {"values": []}, "mark": "point"},
            {
              "width": 280, "height": 201,
              "title": {"text": "Spinal Cord-Blood Barrier", "fontSize": 25, "anchor": "middle", "frame": "group", "offset": -6, "dx": -8},
              "resolve": {"scale": {"xOffset": "independent"}},
              "encoding": {
                "x": {"field": "group", "type": "nominal", "scale": {"domain": ["Naive","G-tg 14d","iTat 7d","iTat 14d"], "paddingInner": 0.403, "paddingOuter": 0.345, "align": 0.59},
                      "axis": {"title": "Treatment Groups", "labels": false, "ticks": false, "domainColor": "#999999", "domainWidth": 1.2, "titleFontSize": 19.3, "titlePadding": 11.5}},
                "y": {"field": "value", "type": "quantitative", "scale": {"domain": [0, 14], "nice": false},
                      "axis": {"title": ["Fluorescent Intensity", "(AFU % Brain to Heart ± SEM)"], "values": [0,1,2,3,4,5,6,7,8,9,10,11,12,13,14], "format": "d",
                               "labelExpr": "datum.value % 2 === 0 ? datum.label : ''", "labelOverlap": false,
                               "tickSize": {"condition": {"test": "datum.value % 2 === 0", "value": 5}, "value": -4},
                               "labelFontSize": 15.5, "labelPadding": 6, "titleFontSize": 19, "titleLineHeight": 15, "titlePadding": 6}}
              },
              "layer": [
                {"data": {"name": "bars"}, "transform": [{"filter": "datum.panel === 'd'"}],
                 "mark": {"type": "bar", "stroke": "#333333", "strokeWidth": 1, "width": {"band": 1}},
                 "encoding": {"fill": {"field": "group", "type": "nominal", "scale": {"domain": ["Naive","G-tg 7d","iTat 7d","G-tg 14d","iTat 14d"], "range": ["#000000","#ff0000","#0000ff","#7a0000","#000080"]}, "legend": null}}},
                {"data": {"name": "bars"}, "transform": [{"filter": "datum.panel === 'd'"}],
                 "mark": {"type": "rule", "color": "#333333", "strokeWidth": 1.5},
                 "encoding": {"y2": {"field": "upper"}}},
                {"data": {"name": "bars"}, "transform": [{"filter": "datum.panel === 'd'"}],
                 "mark": {"type": "tick", "color": "#333333", "thickness": 1.5, "size": 20},
                 "encoding": {"y": {"field": "upper", "type": "quantitative"}}},
                {"data": {"name": "points"}, "transform": [{"filter": "datum.panel === 'd'"}],
                 "mark": {"type": "circle", "size": 85, "stroke": "#000000", "strokeWidth": 0.9, "opacity": 1},
                 "encoding": {"xOffset": {"field": "jitter", "type": "quantitative", "scale": {"domain": [-1, 1], "range": [0, 39]}},
                              "color": {"field": "group", "type": "nominal", "scale": {"domain": ["Naive","G-tg 14d","iTat 7d","iTat 14d"], "range": ["#ffffff","#ff0000","#0000ff","#c0c0c0"]}, "legend": null}}},
                {"data": {"name": "stars"}, "transform": [{"filter": "datum.panel === 'd'"}],
                 "mark": {"type": "text", "text": "*", "fontSize": 40, "fontWeight": "bold", "baseline": "alphabetic", "dy": 19}}
              ]
            }
          ]
        },
        {
          "width": 300, "height": 85,
          "data": {"name": "legend"},
          "transform": [{"filter": "datum.set === 'cd'"}],
          "encoding": {
            "x": {"field": "column", "type": "nominal", "scale": {"type": "point", "domain": ["G-tg","iTat"], "padding": 0.628, "align": 0.79}, "axis": null},
            "y": {"field": "line", "type": "nominal", "scale": {"type": "point", "domain": ["naive","7 d header","7 d","14 d header","14 d"], "padding": 0, "align": 0}, "axis": null}
          },
          "layer": [
            {"transform": [{"filter": "datum.kind === 'swatch'"}],
             "mark": {"type": "point", "shape": "M-1,-0.5H1V0.5H-1Z", "size": 1225, "filled": true, "stroke": "#333333", "strokeWidth": 1, "opacity": 1},
             "encoding": {"fill": {"field": "group", "type": "nominal", "scale": {"domain": ["Naive","G-tg 7d","iTat 7d","G-tg 14d","iTat 14d"], "range": ["#000000","#ff0000","#0000ff","#7a0000","#000080"]}, "legend": null}}},
            {"transform": [{"filter": "datum.kind === 'label'"}],
             "mark": {"type": "text", "align": "left", "baseline": "middle", "dx": 25, "fontSize": 14.5},
             "encoding": {"text": {"field": "text"}}},
            {"transform": [{"filter": "datum.kind === 'header'"}],
             "mark": {"type": "text", "align": "left", "baseline": "middle", "dx": -17.5, "fontSize": 14.5},
             "encoding": {"text": {"field": "text"}}},
            {"transform": [{"filter": "datum.kind === 'subheader'"}],
             "mark": {"type": "text", "align": "left", "baseline": "middle", "dx": -2.5, "fontSize": 14.5},
             "encoding": {"text": {"field": "text"}}}
          ]
        }
      ]
    }
  ],
  "config": {
    "font": "Liberation Sans",
    "view": {"stroke": null},
    "axis": {"grid": false, "labelColor": "#000000", "titleColor": "#000000", "titleFontWeight": "normal", "labelFont": "Liberation Sans", "titleFont": "Liberation Sans"},
    "axisY": {"domainColor": "#555555", "tickColor": "#555555", "domainWidth": 1.2},
    "title": {"font": "Liberation Sans", "fontWeight": "normal", "color": "#000000"},
    "text": {"font": "Liberation Sans", "color": "#000000"}
  }
}
